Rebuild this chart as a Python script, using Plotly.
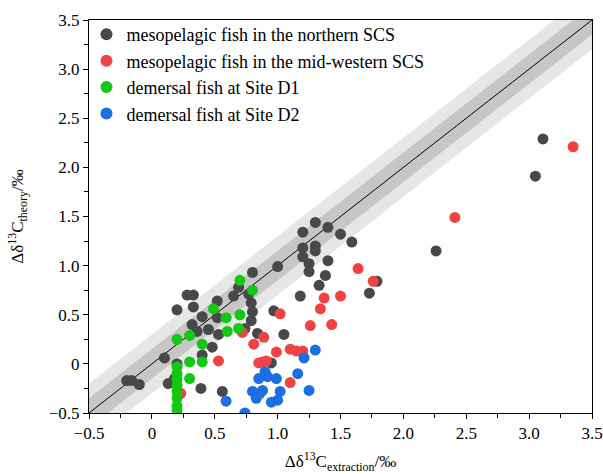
import plotly.graph_objects as go

# ---- data ----
north_x = [3.11, 3.05, 2.26, 1.30, 1.20, 1.40, 1.50, 1.59, 1.20, 1.30,
           1.30, 1.20, 1.25, 1.40, 1.25, 1.38, 1.33, 1.79, 1.73, 1.18,
           1.00, 0.97, 0.80, 0.69, 0.65, 0.77, 0.52, 0.79, 0.28, 0.33,
           0.33, 0.40, 0.52, 0.80, 0.20, 0.79, 0.32, 0.45, 0.36, 0.53,
           0.74, 0.84, 0.10, 0.48, 0.40, 0.20, 0.18, 0.13, -0.20, -0.16,
           -0.10, 0.39, 0.56, 0.95, 1.05]
north_y = [2.29, 1.91, 1.15, 1.44, 1.34, 1.39, 1.32, 1.24, 1.18, 1.20,
           1.15, 1.09, 1.02, 1.05, 0.94, 0.90, 0.80, 0.84, 0.72, 0.69,
           0.99, 0.54, 0.93, 0.78, 0.69, 0.71, 0.64, 0.62, 0.70, 0.70,
           0.58, 0.48, 0.47, 0.53, 0.55, 0.44, 0.40, 0.35, 0.33, 0.30,
           0.36, 0.31, 0.06, 0.17, 0.09, 0.00, -0.15, -0.20, -0.17, -0.17,
           -0.21, -0.25, -0.28, 0.01, 0.30]

mid_x = [3.35, 2.41, 1.64, 1.76, 1.37, 1.50, 1.34, 1.02, 1.26, 1.43,
         0.89, 0.81, 0.99, 1.10, 1.15, 1.20, 0.85, 0.88, 0.91, 0.53,
         0.72, 1.10, 0.23]
mid_y = [2.21, 1.49, 0.97, 0.84, 0.67, 0.69, 0.56, 0.51, 0.39, 0.40,
         0.27, 0.20, 0.12, 0.15, 0.13, 0.13, 0.01, 0.02, 0.03, 0.03,
         0.32, -0.19, -0.30]

d1_x = [0.70, 0.80, 0.49, 0.59, 0.70, 0.60, 0.69, 0.20, 0.30, 0.40,
        0.40, 0.30, 0.30, 0.20, 0.20, 0.20, 0.20, 0.20, 0.20, 0.20, 0.20]
d1_y = [0.85, 0.75, 0.56, 0.47, 0.50, 0.33, 0.36, 0.25, 0.29, 0.20,
        0.02, 0.02, -0.15, -0.03, -0.10, -0.16, -0.22, -0.28, -0.35, -0.43, -0.47]

d2_x = [1.30, 1.21, 1.16, 0.90, 0.85, 0.92, 0.99, 0.80, 0.83, 0.88,
        1.02, 0.95, 1.00, 1.25, 0.59, 0.74, 0.86]
d2_y = [0.14, 0.06, -0.10, -0.08, -0.15, -0.13, -0.15, -0.28, -0.35, -0.27,
        -0.28, -0.39, -0.37, -0.27, -0.38, -0.50, -0.30]

series_names = ["mesopelagic fish in the northern SCS",
                "mesopelagic fish in the mid-western SCS",
                "demersal fish at Site D1",
                "demersal fish at Site D2"]
series_colors = ["#484848", "#f04242", "#12c812", "#1c6fe0"]

axis_range = [-0.5, 3.5]
tick_vals = [-0.5, 0, 0.5, 1.0, 1.5, 2.0, 2.5, 3.0, 3.5]
tick_text = ["\u22120.5", "0", "0.5", "1.0", "1.5", "2.0", "2.5", "3.0", "3.5"]
band_outer = 0.3
band_inner = 0.15

FONT = "Liberation Serif, Times New Roman, serif"

fig = go.Figure()

# 1:1 bands
ext = [axis_range[0] - 1, axis_range[1] + 1]
for d, col in [(band_outer, "#e6e6e6"), (band_inner, "#c6c6c6")]:
    px_ = [ext[0], ext[1], ext[1], ext[0], ext[0]]
    py_ = [ext[0] - d, ext[1] - d, ext[1] + d, ext[0] + d, ext[0] - d]
    fig.add_trace(go.Scatter(x=px_, y=py_, mode="lines", fill="toself",
                             fillcolor=col, line=dict(width=0),
                             showlegend=False, hoverinfo="skip"))
fig.add_trace(go.Scatter(x=ext, y=ext, mode="lines",
                         line=dict(color="black", width=1),
                         showlegend=False, hoverinfo="skip"))

for xs, ys, name, col in zip([north_x, mid_x, d1_x, d2_x],
                             [north_y, mid_y, d1_y, d2_y],
                             series_names, series_colors):
    fig.add_trace(go.Scatter(x=xs, y=ys, mode="markers", name=name,
                             marker=dict(color=col, size=11, line=dict(width=0))))

axis_common = dict(range=axis_range, tickvals=tick_vals, ticktext=tick_text,
                   showgrid=False, zeroline=False, showline=True, mirror=True,
                   automargin=False,
                   linecolor="black", linewidth=1, ticks="outside", ticklen=5,
                   tickcolor="black", tickfont=dict(family=FONT, size=17, color="black"),
                   minor=dict(dtick=0.25, tick0=0, ticks="outside", ticklen=4,
                              tickcolor="black", showgrid=False))

fig.update_layout(
    width=603, height=474,
    margin=dict(l=89, r=11, t=20, b=61),
    paper_bgcolor="white", plot_bgcolor="white",
    font=dict(family=FONT, color="black"),
    xaxis=dict(axis_common,
               title=dict(text="\u0394\u03b4<sup>13</sup>C<sub>extraction</sub>/\u2030",
                          font=dict(family=FONT, size=17), standoff=17)),
    yaxis=dict(axis_common,
               title=dict(text="\u0394\u03b4<sup>13</sup>C<sub>theory</sub>/\u2030",
                          font=dict(family=FONT, size=17), standoff=20)),
    legend=dict(x=-0.005, y=1.01, xanchor="left", yanchor="top",
                bgcolor="rgba(0,0,0,0)", font=dict(family=FONT, size=18),
                itemsizing="constant"),
    showlegend=True,
)

fig.write_html("out.html")
